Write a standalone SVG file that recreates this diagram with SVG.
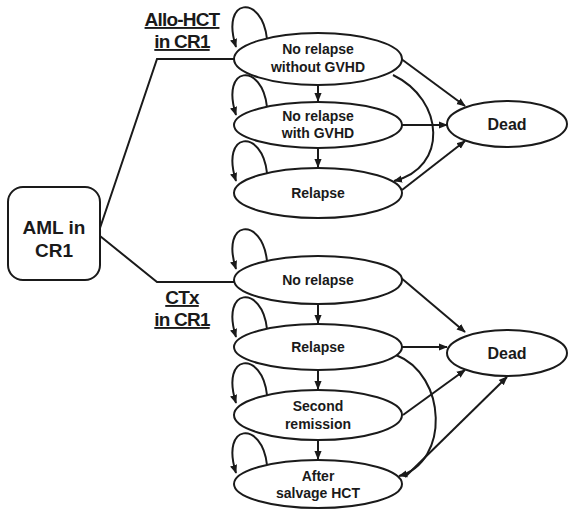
<svg xmlns="http://www.w3.org/2000/svg" width="568" height="510" viewBox="0 0 568 510">
<defs>
<marker id="ahb" viewBox="0 0 10 10" refX="9" refY="5" markerWidth="9" markerHeight="9" orient="auto" markerUnits="userSpaceOnUse"><path d="M0,1 L10,5 L0,9 z" fill="#1a1a1a"/></marker>
</defs>
<style>
.n{fill:#fff;stroke:#1a1a1a;stroke-width:2}
.t{font-family:"Liberation Sans",Arial,sans-serif;font-weight:bold;font-size:14px;fill:#1a1a1a;text-anchor:middle}
.c{fill:none;stroke:#1a1a1a;stroke-width:2}
.a{marker-end:url(#ahb)}
.l{font-family:"Liberation Sans",Arial,sans-serif;font-weight:bold;font-size:19px;fill:#1a1a1a;text-anchor:middle;text-decoration:underline;letter-spacing:-0.8px}
</style>
<rect width="568" height="510" fill="#fff"/>
<g id="connectors">
<polyline class="c" points="100,228 157,59 236,59"/>
<polyline class="c" points="100,236 157,282 236,282"/>
<path class="c a" d="M267,39 C262,-6 220,-3 236,47"/>
<path class="c a" d="M267,107 C262,62 220,65 236,115"/>
<path class="c a" d="M267,173 C262,128 220,131 236,181"/>
<path class="c a" d="M267,261 C262,216 220,219 236,269"/>
<path class="c a" d="M267,329 C262,284 220,287 236,337"/>
<path class="c a" d="M267,395 C262,350 220,353 236,403"/>
<path class="c a" d="M267,465 C262,420 220,423 236,473"/>
<line class="c a" x1="318" y1="85" x2="318" y2="101"/>
<line class="c a" x1="318" y1="148" x2="318" y2="167"/>
<line class="c a" x1="318" y1="304" x2="318" y2="323"/>
<line class="c a" x1="318" y1="370" x2="318" y2="389"/>
<line class="c a" x1="318" y1="440" x2="318" y2="459"/>
<line class="c a" x1="400" y1="58" x2="465" y2="106"/>
<line class="c a" x1="402" y1="125" x2="447" y2="125"/>
<line class="c a" x1="402" y1="190" x2="465" y2="141"/>
<path class="c a" d="M393,75 C445,100 448,168 394,181"/>
<line class="c a" x1="400" y1="277" x2="465" y2="332"/>
<line class="c a" x1="402" y1="347" x2="447" y2="347"/>
<line class="c a" x1="403" y1="415" x2="465" y2="370"/>
<line class="c a" x1="405" y1="477" x2="507" y2="377"/>
<path class="c a" d="M396,355 C447,375 450,462 399,476"/>
</g>
<g id="aml"><rect class="n" x="8" y="187" width="92" height="93" rx="15"/><text class="t" style="font-size:19px" x="54" y="234">AML in</text><text class="t" style="font-size:19px" x="54" y="257">CR1</text></g>
<g id="lbl-allo"><text class="l" x="182" y="26">Allo-HCT</text><text class="l" x="182" y="48">in CR1</text></g>
<g id="lbl-ctx"><text class="l" x="182" y="304">CTx</text><text class="l" x="182" y="326">in CR1</text></g>
<g id="a1"><ellipse class="n" cx="318" cy="59" rx="84" ry="26"/><text class="t" x="318" y="54">No relapse</text><text class="t" x="318" y="72">without GVHD</text></g>
<g id="a2"><ellipse class="n" cx="318" cy="125" rx="84" ry="23"/><text class="t" x="318" y="121">No relapse</text><text class="t" x="318" y="138">with GVHD</text></g>
<g id="a3"><ellipse class="n" cx="318" cy="193" rx="84" ry="25"/><text class="t" x="318" y="198">Relapse</text></g>
<g id="dead1"><ellipse class="n" cx="507" cy="124" rx="60" ry="23"/><text class="t" style="font-size:16px" x="507" y="130">Dead</text></g>
<g id="b1"><ellipse class="n" cx="318" cy="280" rx="84" ry="24"/><text class="t" x="318" y="285">No relapse</text></g>
<g id="b2"><ellipse class="n" cx="318" cy="347" rx="84" ry="23"/><text class="t" x="318" y="352">Relapse</text></g>
<g id="b3"><ellipse class="n" cx="318" cy="415" rx="84" ry="25"/><text class="t" x="318" y="411">Second</text><text class="t" x="318" y="429">remission</text></g>
<g id="b4"><ellipse class="n" cx="318" cy="484" rx="84" ry="24"/><text class="t" x="318" y="481">After</text><text class="t" x="318" y="498">salvage HCT</text></g>
<g id="dead2"><ellipse class="n" cx="507" cy="353" rx="60" ry="23"/><text class="t" style="font-size:16px" x="507" y="359">Dead</text></g>
</svg>
